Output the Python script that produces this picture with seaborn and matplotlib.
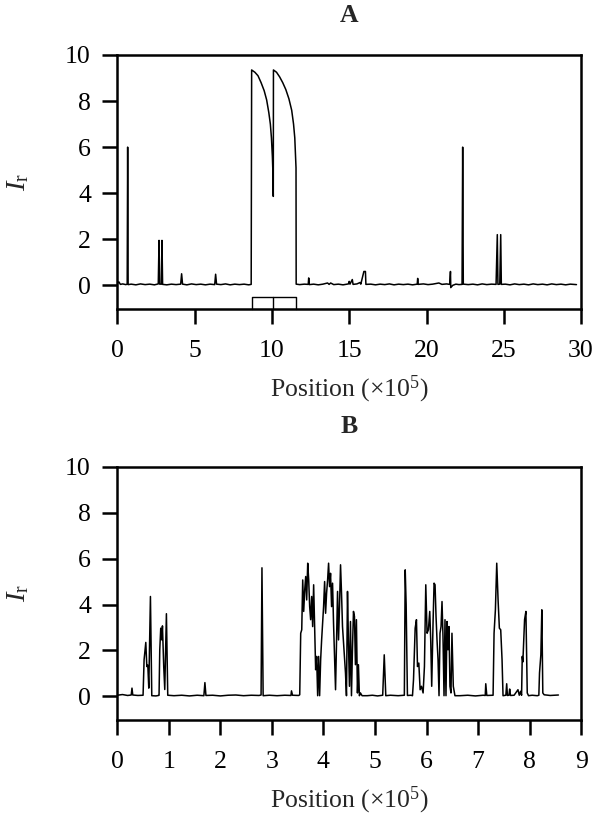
"""Relative intensity traces along two genomes (panels A and B)."""

import matplotlib
matplotlib.use("Agg")
import matplotlib.pyplot as plt
import numpy as np
import seaborn as sns

# ---- panel A: position (x1e5) and I_r ----
a_pos = [
    0.0, 0.1, 0.2, 0.35, 0.55, 0.64, 0.67, 0.70, 0.9, 1.2,
    1.5, 1.8, 2.1, 2.4, 2.65, 2.70, 2.74, 2.85, 2.89, 2.93,
    3.2, 3.5, 3.8, 4.1, 4.16, 4.22, 4.5, 4.8, 5.1, 5.4,
    5.7, 6.0, 6.3, 6.36, 6.42, 6.7, 7.0, 7.3, 7.6, 7.9,
    8.2, 8.5, 8.66,
    8.69, 8.9, 9.1, 9.3, 9.5, 9.66, 9.8, 9.9, 9.97, 10.03, 10.07, 10.09,
    10.1, 10.3, 10.5, 10.7, 10.9, 11.1, 11.28, 11.4, 11.48, 11.53, 11.56, 11.57,
    11.8, 12.1, 12.35, 12.38, 12.42, 12.7, 13.0, 13.3, 13.6, 13.7,
    13.8, 14.0, 14.3, 14.6, 14.95, 15.0, 15.05, 15.2, 15.25, 15.5,
    15.7, 15.75, 15.95, 16.05, 16.08, 16.4, 16.7, 17.0, 17.3, 17.6,
    17.9, 18.2, 18.5, 18.8, 19.1, 19.4, 19.43, 19.46, 19.8, 20.1,
    20.4, 20.8, 21.0, 21.3, 21.5, 21.55, 21.57, 21.7, 21.9, 22.1,
    22.3, 22.34, 22.38, 22.7, 23.0, 23.3, 23.6, 23.9, 24.2, 24.5,
    24.58, 24.62, 24.74, 24.8, 24.84, 25.1, 25.4, 25.7, 26.0, 26.3,
    26.6, 26.9, 27.2, 27.5, 27.8, 28.1, 28.4, 28.7, 29.0, 29.3,
    29.7,
]
a_ir = [
    0.08, 0.15, 0.04, 0.06, 0.03, 0.05, 6.0, 0.03, 0.05, 0.02,
    0.06, 0.03, 0.05, 0.02, 0.06, 1.95, 0.05, 0.05, 1.95, 0.04,
    0.02, 0.05, 0.03, 0.05, 0.5, 0.05, 0.02, 0.06, 0.03, 0.05,
    0.02, 0.05, 0.03, 0.48, 0.05, 0.03, 0.06, 0.02, 0.05, 0.03,
    0.05, 0.02, 0.04,
    9.35, 9.25, 9.1, 8.8, 8.45, 8.05, 7.5, 7.0, 6.4, 5.6, 4.8, 3.86,
    9.35, 9.25, 9.05, 8.8, 8.5, 8.1, 7.6, 7.0, 6.4, 5.6, 5.1, 0.05,
    0.03, 0.05, 0.04, 0.32, 0.03, 0.05, 0.02, 0.05, 0.1, 0.04,
    0.1, 0.03, 0.05, 0.02, 0.06, 0.17, 0.05, 0.25, 0.04, 0.06,
    0.12, 0.05, 0.6, 0.6, 0.04, 0.05, 0.02, 0.05, 0.03, 0.06,
    0.02, 0.05, 0.03, 0.05, 0.02, 0.05, 0.3, 0.04, 0.06, 0.03,
    0.05, 0.1, 0.04, 0.06, 0.04, 0.6, -0.1, 0.0, 0.05, 0.03,
    0.04, 6.0, 0.05, 0.03, 0.05, 0.02, 0.06, 0.03, 0.05, 0.04,
    2.2, 0.04, 0.05, 2.2, 0.04, 0.05, 0.02, 0.06, 0.03, 0.05,
    0.02, 0.06, 0.03, 0.05, 0.02, 0.06, 0.03, 0.05, 0.02, 0.05,
    0.03,
]
# region marker under the big peak: edges and vertical extent
a_box_edges = [8.69, 10.09, 11.56]
a_box_ir = [-1.03, -0.5]

# ---- panel B ----
b_lead_pos = [
    0.0, 0.1, 0.2, 0.27, 0.285, 0.30, 0.4, 0.48, 0.50, 0.52,
    0.553, 0.573, 0.592, 0.611, 0.643, 0.669, 0.75, 0.80, 0.81, 0.824,
    0.843, 0.863, 0.876, 0.901, 0.921, 0.953, 0.979, 1.1, 1.25, 1.4,
    1.55, 1.68, 1.70, 1.72, 1.85, 2.0, 2.15, 2.3, 2.45, 2.6,
    2.75, 2.79, 2.807, 2.83, 2.95, 3.1, 3.25, 3.37, 3.38, 3.40,
    3.52,
]
b_lead_ir = [
    0.05, 0.08, 0.04, 0.06, 0.36, 0.06, 0.04, 0.05, 0.05, 1.6,
    2.35, 1.3, 1.36, 0.36, 4.35, 0.03, 0.02, 0.04, 0.05, 2.03,
    2.97, 2.46, 3.07, 1.3, 0.3, 3.6, 0.05, 0.03, 0.05, 0.02,
    0.05, 0.03, 0.6, 0.04, 0.05, 0.02, 0.05, 0.06, 0.03, 0.05,
    0.04, 0.06, 5.6, 0.03, 0.05, 0.03, 0.05, 0.04, 0.24, 0.05,
    0.04,
]
b_c3_pos = [
    3.540, 3.559, 3.579, 3.598, 3.617, 3.637, 3.656, 3.675, 3.695, 3.714,
    3.733, 3.752, 3.772, 3.791, 3.810, 3.830, 3.849, 3.868, 3.888, 3.907,
    3.926, 3.946, 3.965, 3.984, 4.003, 4.023, 4.042, 4.061, 4.081, 4.100,
    4.119, 4.138, 4.158, 4.177, 4.196, 4.216, 4.235, 4.254, 4.274, 4.293,
    4.312, 4.332, 4.351, 4.370, 4.390, 4.409, 4.428, 4.447, 4.467, 4.486,
    4.505, 4.525, 4.544, 4.563, 4.583, 4.602, 4.621, 4.640, 4.660, 4.679,
    4.698, 4.718, 4.750,
]
b_c3_ir = [
    0.07, 2.75, 2.90, 5.07, 3.70, 4.64, 5.22, 4.20, 5.80, 5.07,
    3.91, 3.34, 4.35, 3.04, 4.86, 3.04, 1.16, 1.74, 0.03, 1.74,
    0.03, 1.60, 2.46, 3.19, 3.91, 5.00, 3.62, 4.49, 5.07, 5.80,
    4.78, 5.36, 3.91, 4.93, 3.19, 1.74, 0.29, 2.46, 4.57, 2.46,
    3.91, 5.73, 4.49, 3.04, 2.32, 1.60, 1.02, 0.03, 4.57, 2.32,
    0.44, 3.26, 0.03, 2.03, 3.70, 3.48, 1.38, 3.34, 0.15, 1.38,
    0.03, 0.15, 0.03,
]
b_mid_pos = [
    4.85, 4.95, 5.05, 5.15, 5.18, 5.21, 5.3, 5.45, 5.57, 5.587,
    5.605, 5.63, 5.7,
]
b_mid_ir = [
    0.03, 0.05, 0.02, 0.05, 1.81, 0.03, 0.05, 0.03, 0.05, 5.51,
    4.0, 0.04, 0.05,
]
b_c4_pos = [
    5.728, 5.748, 5.780, 5.805, 5.825, 5.851, 5.876, 5.902, 5.934, 5.960,
    5.986, 6.011, 6.037, 6.063, 6.082, 6.101, 6.127, 6.147, 6.166, 6.185,
    6.204, 6.224, 6.243, 6.262, 6.282, 6.301, 6.320, 6.340, 6.359, 6.378,
    6.398, 6.417, 6.436, 6.455, 6.475, 6.494, 6.520, 6.552,
]
b_c4_ir = [
    0.03, 0.73, 2.97, 3.34, 1.30, 1.45, 0.29, 0.44, 0.15, 1.30,
    4.86, 2.75, 2.90, 3.70, 2.46, 0.44, 3.19, 4.93, 4.86, 3.48,
    2.46, 1.60, 0.03, 2.75, 3.04, 4.13, 2.61, 0.03, 3.34, 0.03,
    3.26, 2.03, 3.04, 0.44, 0.15, 2.75, 0.44, 0.03,
]
b_tail_pos = [
    6.65, 6.8, 6.95, 7.1, 7.14, 7.15, 7.17, 7.28, 7.292, 7.311,
    7.337, 7.363, 7.389, 7.414, 7.44, 7.466, 7.485, 7.54, 7.556, 7.57,
    7.60, 7.614, 7.63, 7.7, 7.775, 7.80, 7.826, 7.845, 7.858, 7.87,
    7.903, 7.929, 7.955, 7.98, 8.05, 8.15, 8.18, 8.193, 8.219, 8.238,
    8.257, 8.283, 8.4, 8.56,
]
b_tail_ir = [
    0.03, 0.05, 0.02, 0.05, 0.04, 0.55, 0.04, 0.05, 0.05, 2.75,
    3.77, 5.8, 4.2, 2.97, 2.9, 1.6, 0.03, 0.05, 0.55, 0.04,
    0.05, 0.32, 0.04, 0.05, 0.29, 0.05, 0.22, 0.05, 1.74, 1.5,
    3.34, 3.7, 0.15, 0.03, 0.05, 0.03, 0.05, 1.02, 1.81, 3.77,
    0.15, 0.07, 0.04, 0.06,
]

a_xticks = [0, 5, 10, 15, 20, 25, 30]
b_xticks = [0, 1, 2, 3, 4, 5, 6, 7, 8, 9]
y_ticks = [0, 2, 4, 6, 8, 10]

b_pos = b_lead_pos + b_c3_pos + b_mid_pos + b_c4_pos + b_tail_pos
b_ir = b_lead_ir + b_c3_ir + b_mid_ir + b_c4_ir + b_tail_ir
assert len(a_pos) == len(a_ir) and len(b_pos) == len(b_ir)

sns.set_theme(style="ticks")
plt.rcParams["font.family"] = ["Liberation Serif", "DejaVu Serif"]
plt.rcParams["mathtext.fontset"] = "custom"
plt.rcParams["mathtext.rm"] = "Liberation Serif"
plt.rcParams["mathtext.it"] = "Liberation Serif:italic"

FS = 18.5
LW = 1.8

fig = plt.figure(figsize=(6.0, 8.16), dpi=100)
ax_a = fig.add_axes([0.1955, 0.6213, 0.773, 0.3113])
ax_b = fig.add_axes([0.1955, 0.1176, 0.773, 0.3104])

panels = [
    (ax_a, a_pos, a_ir, a_xticks, "A"),
    (ax_b, b_pos, b_ir, b_xticks, "B"),
]
for ax, xs, ys, xt, letter in panels:
    sns.lineplot(x=xs, y=ys, ax=ax, color="black", linewidth=1.1,
                 estimator=None, sort=False)
    ax.set_xlim(xt[0], xt[-1])
    ax.set_ylim(-1.03, 10)
    ax.set_xticks(xt)
    ax.set_yticks(y_ticks)
    ax.tick_params(direction="out", length=11, width=LW, labelsize=FS,
                   colors="black")
    ax.tick_params(axis="x", pad=11)
    ax.tick_params(axis="y", pad=8)
    for sp in ax.spines.values():
        sp.set_visible(True)
        sp.set_linewidth(LW)
        sp.set_color("black")
    ax.set_xlabel(r"Position ($\times$10$^5$)", fontsize=FS, labelpad=9)
    ax.set_ylabel(r"$I_\mathrm{r}$", fontsize=FS + 2)
    ax.yaxis.set_label_coords(-0.185, 0.5)
    ax.set_title(letter, fontsize=FS, fontweight="bold", pad=24)

# box marking the region of the large peak in panel A
ax_a.plot([a_box_edges[0], a_box_edges[0], a_box_edges[-1], a_box_edges[-1]],
          [a_box_ir[0], a_box_ir[1], a_box_ir[1], a_box_ir[0]],
          color="black", linewidth=1.0, clip_on=False)
ax_a.plot([a_box_edges[1], a_box_edges[1]], a_box_ir,
          color="black", linewidth=1.0)

fig.savefig("out.png", dpi=100)
plt.close(fig)
